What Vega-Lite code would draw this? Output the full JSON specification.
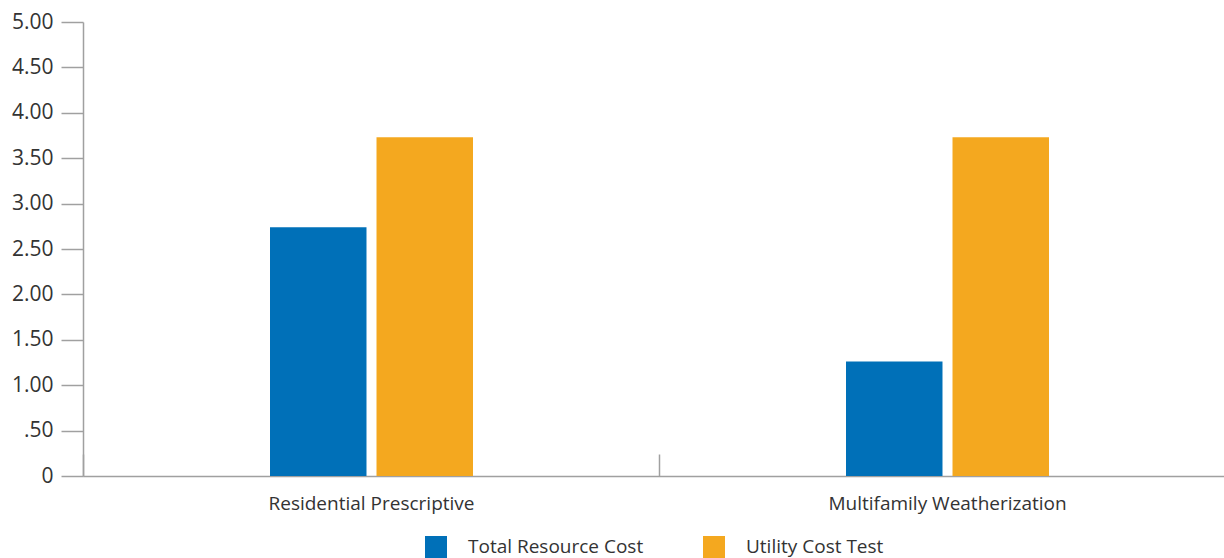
{
  "$schema": "https://vega.github.io/schema/vega-lite/v6.json",
  "width": 1141,
  "height": 454,
  "autosize": {"type": "none"},
  "padding": {"left": 83, "top": 22, "right": 0, "bottom": 82},
  "config": {
    "view": {"stroke": null},
    "font": "Open Sans",
    "axis": {"labelFont": "Open Sans", "labelColor": "#333333", "domainColor": "#a0a0a0", "tickColor": "#a0a0a0", "domainWidth": 1.5, "tickWidth": 1.5, "labelLimit": 0},
    "legend": {"labelFont": "Open Sans", "labelColor": "#333333", "labelLimit": 0}
  },
  "data": {
    "values": [
      {"program": "Residential Prescriptive", "test": "Total Resource Cost", "ratio": 2.74},
      {"program": "Residential Prescriptive", "test": "Utility Cost Test", "ratio": 3.73},
      {"program": "Multifamily Weatherization", "test": "Total Resource Cost", "ratio": 1.26},
      {"program": "Multifamily Weatherization", "test": "Utility Cost Test", "ratio": 3.73}
    ]
  },
  "mark": {"type": "bar"},
  "encoding": {
    "x": {
      "field": "program",
      "type": "nominal",
      "sort": ["Residential Prescriptive", "Multifamily Weatherization"],
      "scale": {"range": [0, 1152], "paddingInner": 0, "paddingOuter": 0},
      "axis": {"title": null, "labelAngle": 0, "ticks": true, "tickBand": "extent", "tickSize": -22, "labelFontSize": 19, "labelPadding": 40}
    },
    "xOffset": {
      "field": "test",
      "type": "nominal",
      "scale": {"range": [187, 390], "paddingInner": 0.094, "paddingOuter": 0}
    },
    "y": {
      "field": "ratio",
      "type": "quantitative",
      "scale": {"domain": [0, 5], "nice": false},
      "axis": {
        "title": null,
        "grid": false,
        "values": [0, 0.5, 1, 1.5, 2, 2.5, 3, 3.5, 4, 4.5, 5],
        "tickSize": 22,
        "labelPadding": 8,
        "labelFontSize": 21,
        "labelExpr": "datum.value == 0 ? '0' : (datum.value < 1 ? '.50' : format(datum.value, '.2f'))"
      }
    },
    "color": {
      "field": "test",
      "type": "nominal",
      "scale": {"domain": ["Total Resource Cost", "Utility Cost Test"], "range": ["#0070b8", "#f4a81f"]},
      "legend": {
        "title": null,
        "orient": "none",
        "direction": "horizontal",
        "legendX": 342,
        "legendY": 514,
        "padding": 0,
        "symbolType": "square",
        "symbolSize": 484,
        "symbolStrokeWidth": 0,
        "symbolOpacity": 1,
        "labelFontSize": 19,
        "labelOffset": 21,
        "columnPadding": 59
      }
    }
  }
}
